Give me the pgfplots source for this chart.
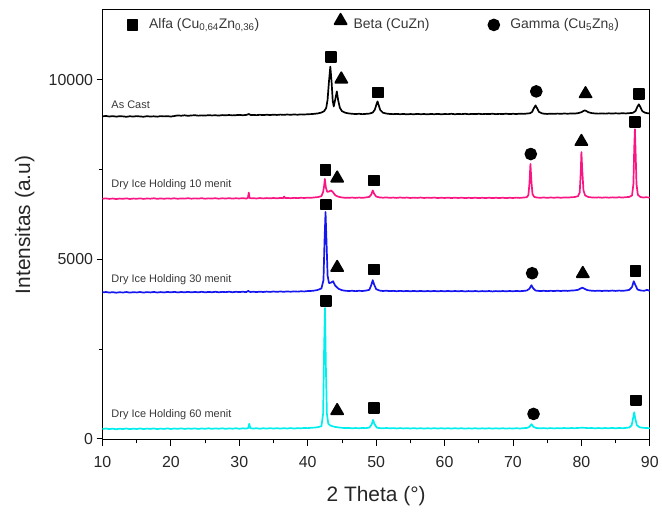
\documentclass[border=0pt]{standalone}
\usepackage{fontspec}
\setmainfont{Liberation Sans}
\usepackage{pgfplots}
\pgfplotsset{compat=1.18}
\definecolor{cpink}{RGB}{250,22,130}
\definecolor{cblue}{RGB}{22,22,240}
\definecolor{ccyan}{RGB}{0,238,238}
\definecolor{txtgray}{RGB}{55,55,55}
\begin{document}
\begin{tikzpicture}
\begin{axis}[
    scale only axis,
    width=550pt,
    height=432pt,
    xmin=10, xmax=90,
    ymin=-30, ymax=11950,
    xtick={10,20,...,90},
    minor x tick num=1,
    ytick={0,5000,10000},
    minor y tick num=1,
    scaled y ticks=false,
    tick align=outside,
    tick pos=left,
    major tick length=6pt,
    minor tick length=3.5pt,
    every tick/.style={black, line width=0.9pt},
    axis line style={line width=1.1pt},
    /pgf/number format/assume math mode=true,
    /pgf/number format/1000 sep={},
    ticklabel style={font=\fontsize{16}{16}\selectfont, text=black!85},
    xticklabel style={yshift=-7pt},
    xlabel={2 Theta (°)},
    ylabel={Intensitas (a.u)},
    label style={font=\fontsize{21}{21}\selectfont, text=black!85},
    xlabel style={at={(axis description cs:0.5,-0.13)}, anchor=center},
    ylabel style={at={(axis description cs:-0.142,0.5)}, anchor=center},
    every axis plot/.append style={line width=1.7pt, line join=round},
]

% As Cast
\addplot[black] coordinates {
(10,8985)(10.5,8996)(11,8980)(11.5,8992)(12,8976)(12.5,8990)(13,8984)(13.5,8972)(14,8988)(14.5,8978)(15,8992)(15.5,8982)(16,8974)(16.5,8990)(17,8980)(17.5,8986)(18,8976)(18.5,8992)(19,8984)(19.5,8990)(20,8980)(20.5,8994)(21,9012)(21.5,9002)(22,9014)(22.5,9000)(23,9010)(23.5,9016)(24,9004)(24.5,9012)(25,9006)(25.5,9018)(26,9010)(26.5,9016)(27,9006)(27.5,9020)(28,9014)(28.5,9022)(29,9012)(29.5,9018)(30,9026)(30.5,9016)(31,9024)(31.4,9050)(31.7,9018)(32,9026)(32.5,9018)(33,9028)(33.5,9020)(34,9030)(34.5,9022)(35,9032)(35.5,9024)(36,9034)(36.5,9026)(37,9036)(37.5,9028)(38,9038)(38.5,9030)(39,9040)(39.5,9036)(40,9044)(40.5,9048)(41,9056)(41.5,9068)(42,9090)(42.4,9130)(42.7,9220)(42.9,9450)(43.1,9950)(43.3,10371)(43.5,9900)(43.65,9420)(43.8,9260)(44.0,9440)(44.25,9679)(44.45,9430)(44.7,9220)(45,9130)(45.5,9085)(46,9066)(46.5,9056)(47,9050)(47.5,9056)(48,9046)(48.5,9054)(49,9062)(49.5,9090)(49.8,9170)(50.05,9320)(50.2,9402)(50.35,9310)(50.6,9160)(51,9085)(51.5,9062)(52,9052)(52.5,9046)(53,9054)(53.5,9044)(54,9052)(54.5,9040)(55,9050)(55.5,9042)(56,9054)(56.5,9044)(57,9050)(57.5,9040)(58,9052)(58.5,9044)(59,9054)(59.5,9042)(60,9050)(60.5,9046)(61,9056)(61.5,9044)(62,9052)(62.5,9046)(63,9056)(63.5,9044)(64,9054)(64.5,9048)(65,9056)(65.5,9046)(66,9054)(66.5,9048)(67,9058)(67.5,9046)(68,9054)(68.5,9050)(69,9058)(69.5,9048)(70,9056)(70.5,9050)(71,9060)(71.5,9054)(72,9062)(72.5,9072)(72.8,9110)(73.05,9210)(73.3,9290)(73.55,9200)(73.8,9110)(74.2,9070)(74.5,9060)(75,9052)(75.5,9060)(76,9054)(76.5,9062)(77,9056)(77.5,9064)(78,9058)(78.5,9066)(79,9062)(79.5,9074)(80,9100)(80.3,9135)(80.5,9150)(80.7,9135)(81,9100)(81.5,9076)(82,9066)(82.5,9060)(83,9068)(83.5,9060)(84,9070)(84.5,9062)(85,9070)(85.5,9064)(86,9072)(86.5,9066)(87,9074)(87.5,9082)(87.9,9130)(88.2,9260)(88.4,9320)(88.6,9250)(88.9,9130)(89.3,9086)(89.6,9074)(90,9064)
};

% Dry Ice Holding 10 menit
\addplot[cpink] coordinates {
(10,6688)(10.5,6700)(11,6684)(11.5,6696)(12,6680)(12.5,6694)(13,6686)(13.5,6700)(14,6682)(14.5,6694)(15,6688)(15.5,6700)(16,6684)(16.5,6696)(17,6690)(17.5,6702)(18,6686)(18.5,6698)(19,6688)(19.5,6700)(20,6690)(20.5,6702)(21,6688)(21.5,6698)(22,6692)(22.5,6704)(23,6690)(23.5,6700)(24,6692)(24.5,6704)(25,6690)(25.5,6700)(26,6694)(26.5,6704)(27,6690)(27.5,6702)(28,6694)(28.5,6706)(29,6692)(29.5,6702)(30,6696)(30.5,6706)(31,6694)(31.25,6710)(31.38,6860)(31.5,6712)(31.75,6698)(32,6706)(32.5,6696)(33,6708)(33.5,6698)(34,6708)(34.5,6700)(35,6710)(35.5,6700)(36,6712)(36.4,6704)(36.55,6750)(36.7,6706)(37,6712)(37.5,6704)(38,6714)(38.5,6706)(39,6716)(39.5,6710)(40,6720)(40.5,6716)(41,6726)(41.5,6736)(42,6760)(42.25,6880)(42.4,7050)(42.5,7243)(42.65,7000)(42.85,6880)(43.1,6890)(43.4,6920)(43.65,6880)(44,6790)(44.4,6750)(44.8,6730)(45.3,6718)(46,6714)(46.5,6722)(47,6712)(47.5,6722)(48,6714)(48.5,6726)(49,6740)(49.3,6810)(49.5,6920)(49.7,6830)(50,6750)(50.5,6726)(51,6718)(51.5,6726)(52,6714)(52.5,6722)(53,6712)(53.5,6724)(54,6714)(54.5,6722)(55,6710)(55.5,6720)(56,6712)(56.5,6722)(57,6710)(57.5,6720)(58,6712)(58.5,6722)(59,6708)(59.5,6718)(60,6710)(60.5,6720)(61,6708)(61.5,6718)(62,6710)(62.5,6720)(63,6706)(63.5,6716)(64,6708)(64.5,6718)(65,6706)(65.5,6716)(66,6708)(66.5,6718)(67,6706)(67.5,6716)(68,6708)(68.5,6718)(69,6706)(69.5,6716)(70,6710)(70.5,6720)(71,6712)(71.5,6722)(72,6730)(72.25,6790)(72.4,7100)(72.55,7659)(72.7,7150)(72.85,6820)(73.1,6740)(73.5,6722)(74,6716)(74.5,6724)(75,6714)(75.5,6724)(76,6716)(76.5,6726)(77,6716)(77.5,6726)(78,6720)(78.5,6730)(79,6736)(79.5,6760)(79.75,6860)(79.9,7400)(80.0,7990)(80.12,7500)(80.3,6920)(80.55,6780)(81,6738)(81.5,6726)(82,6720)(82.5,6728)(83,6718)(83.5,6728)(84,6718)(84.5,6728)(85,6720)(85.5,6730)(86,6722)(86.5,6732)(87,6740)(87.4,6780)(87.6,7100)(87.72,8100)(87.82,8627)(87.92,8000)(88.05,7100)(88.25,6800)(88.6,6740)(89,6724)(89.5,6730)(90,6722)
};

% Dry Ice Holding 30 menit
\addplot[cblue] coordinates {
(10,4078)(10.5,4090)(11,4074)(11.5,4086)(12,4070)(12.5,4084)(13,4076)(13.5,4090)(14,4072)(14.5,4086)(15,4078)(15.5,4090)(16,4074)(16.5,4088)(17,4078)(17.5,4092)(18,4076)(18.5,4088)(19,4078)(19.5,4092)(20,4080)(20.5,4094)(21,4078)(21.5,4090)(22,4082)(22.5,4094)(23,4080)(23.5,4092)(24,4082)(24.5,4096)(25,4080)(25.5,4092)(26,4084)(26.5,4096)(27,4082)(27.5,4094)(28,4086)(28.5,4098)(29,4084)(29.5,4096)(30,4088)(30.5,4098)(31,4086)(31.3,4120)(31.6,4090)(32,4098)(32.5,4088)(33,4100)(33.5,4090)(34,4102)(34.5,4092)(35,4104)(35.5,4094)(36,4104)(36.5,4096)(37,4106)(37.5,4098)(38,4108)(38.5,4100)(39,4110)(39.5,4106)(40,4116)(40.5,4120)(41,4130)(41.5,4150)(42,4190)(42.3,4420)(42.45,5500)(42.6,6321)(42.75,5450)(42.9,4550)(43.1,4340)(43.4,4350)(43.7,4390)(44,4270)(44.5,4180)(45,4140)(45.5,4124)(46,4118)(46.5,4124)(47,4114)(47.5,4124)(48,4118)(48.5,4130)(49,4150)(49.3,4290)(49.5,4420)(49.7,4300)(50,4170)(50.5,4130)(51,4118)(51.5,4126)(52,4114)(52.5,4122)(53,4112)(53.5,4122)(54,4112)(54.5,4120)(55,4110)(55.5,4120)(56,4110)(56.5,4120)(57,4108)(57.5,4118)(58,4110)(58.5,4120)(59,4108)(59.5,4118)(60,4110)(60.5,4120)(61,4108)(61.5,4118)(62,4110)(62.5,4118)(63,4106)(63.5,4116)(64,4108)(64.5,4118)(65,4106)(65.5,4116)(66,4108)(66.5,4118)(67,4106)(67.5,4116)(68,4108)(68.5,4118)(69,4108)(69.5,4118)(70,4110)(70.5,4120)(71,4112)(71.5,4120)(72,4130)(72.4,4180)(72.7,4280)(72.95,4190)(73.3,4130)(74,4116)(74.5,4124)(75,4114)(75.5,4124)(76,4116)(76.5,4126)(77,4118)(77.5,4128)(78,4120)(78.5,4130)(79,4136)(79.5,4150)(79.9,4190)(80.15,4210)(80.45,4180)(80.9,4140)(81.5,4126)(82,4120)(82.5,4128)(83,4118)(83.5,4128)(84,4120)(84.5,4130)(85,4120)(85.5,4130)(86,4122)(86.5,4132)(87,4150)(87.4,4230)(87.65,4390)(87.85,4300)(88.2,4160)(88.7,4130)(89.2,4126)(89.6,4150)(90,4120)
};

% Dry Ice Holding 60 menit
\addplot[ccyan] coordinates {
(10,272)(10.5,286)(11,268)(11.5,282)(12,266)(12.5,280)(13,270)(13.5,286)(14,268)(14.5,282)(15,272)(15.5,288)(16,270)(16.5,284)(17,274)(17.5,288)(18,270)(18.5,284)(19,274)(19.5,290)(20,272)(20.5,286)(21,276)(21.5,290)(22,274)(22.5,286)(23,278)(23.5,290)(24,274)(24.5,288)(25,278)(25.5,292)(26,276)(26.5,290)(27,280)(27.5,292)(28,276)(28.5,290)(29,280)(29.5,294)(30,278)(30.5,292)(31,282)(31.3,300)(31.45,415)(31.6,296)(32,284)(32.5,294)(33,280)(33.5,294)(34,282)(34.5,296)(35,284)(35.5,296)(36,282)(36.5,296)(37,286)(37.5,298)(38,284)(38.5,298)(39,290)(39.5,302)(40,296)(40.5,306)(41,312)(41.5,324)(42,350)(42.25,700)(42.4,2600)(42.52,3645)(42.65,2000)(42.8,700)(43,420)(43.3,370)(43.6,350)(44,330)(44.5,316)(45,306)(45.5,298)(46,302)(46.5,292)(47,300)(47.5,292)(48,302)(48.5,296)(49,312)(49.35,400)(49.55,526)(49.75,410)(50.1,310)(50.5,298)(51,292)(51.5,300)(52,290)(52.5,298)(53,288)(53.5,298)(54,288)(54.5,296)(55,286)(55.5,296)(56,286)(56.5,294)(57,284)(57.5,294)(58,286)(58.5,296)(59,284)(59.5,294)(60,286)(60.5,294)(61,284)(61.5,294)(62,286)(62.5,294)(63,282)(63.5,292)(64,284)(64.5,294)(65,282)(65.5,292)(66,284)(66.5,294)(67,282)(67.5,292)(68,284)(68.5,294)(69,282)(69.5,292)(70,284)(70.5,294)(71,286)(71.5,296)(72,300)(72.4,330)(72.7,407)(73.0,330)(73.4,300)(74,290)(74.5,298)(75,288)(75.5,298)(76,288)(76.5,298)(77,290)(77.5,300)(78,290)(78.5,300)(79,294)(79.5,302)(80,306)(80.5,304)(81,296)(81.5,300)(82,290)(82.5,300)(83,290)(83.5,300)(84,292)(84.5,302)(85,292)(85.5,302)(86,294)(86.5,304)(87,314)(87.35,380)(87.6,620)(87.72,739)(87.85,580)(88.1,380)(88.5,320)(89,306)(89.5,300)(90,294)
};

% phase markers: Alfa (squares), Beta (triangles), Gamma (circles)
\addplot[only marks, mark=square*, mark size=5pt, black] coordinates {
(14.4,11533)
(43.4,10646)(50.3,9650)(88.4,9600)
(42.6,7492)(49.7,7197)(87.8,8821)
(42.7,6524)(49.7,4720)(87.9,4670)
(42.7,3834)(49.7,858)(88.0,1071)
};
\addplot[only marks, mark=triangle*, mark size=7pt, black] coordinates {
(44.8,11650)
(44.9,10020)(80.6,9610)
(44.3,7260)(80.0,8280)
(44.3,4770)(80.2,4600)
(44.3,780)
};
\addplot[only marks, mark=*, mark size=5.5pt, black] coordinates {
(67.2,11533)
(73.4,9680)
(72.6,7935)
(72.8,4613)
(73.0,692)
};

% legend text
\node[anchor=west, font=\fontsize{14}{14}\selectfont, text=txtgray] at (axis cs:16.3,11533) {Alfa (Cu\textsubscript{0,64}Zn\textsubscript{0,36})};
\node[anchor=west, font=\fontsize{14}{14}\selectfont, text=txtgray] at (axis cs:46.2,11533) {Beta (CuZn)};
\node[anchor=west, font=\fontsize{14}{14}\selectfont, text=txtgray] at (axis cs:69.1,11533) {Gamma (Cu\textsubscript{5}Zn\textsubscript{8})};

% series labels
\node[anchor=west, font=\fontsize{11}{11}\selectfont, text=txtgray] at (axis cs:10.8,9320) {As Cast};
\node[anchor=west, font=\fontsize{11}{11}\selectfont, text=txtgray] at (axis cs:10.8,7080) {Dry Ice Holding 10 menit};
\node[anchor=west, font=\fontsize{11}{11}\selectfont, text=txtgray] at (axis cs:10.8,4430) {Dry Ice Holding 30 menit};
\node[anchor=west, font=\fontsize{11}{11}\selectfont, text=txtgray] at (axis cs:10.8,665) {Dry Ice Holding 60 menit};

\end{axis}
\path ([shift={(-103pt,-72pt)}]current axis.south west) rectangle ([shift={(9pt,10pt)}]current axis.north east);
\end{tikzpicture}
\end{document}
